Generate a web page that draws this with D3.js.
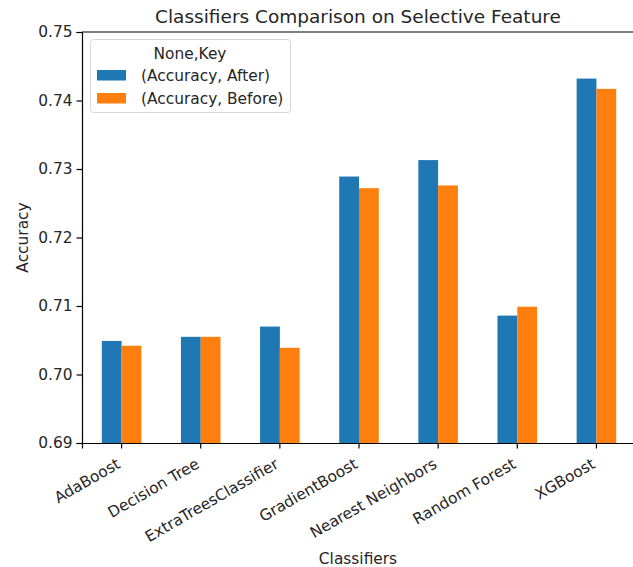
<!DOCTYPE html>
<html>
<head>
<meta charset="utf-8">
<script src="https://cdn.jsdelivr.net/npm/d3@7"></script>
<style>
  body { margin: 0; background: #fff; }
  text { font-family: "DejaVu Sans", sans-serif; fill: #262626; }
</style>
</head>
<body>
<svg width="633" height="567"></svg>
<script>
// data
var classifiers = ["AdaBoost", "Decision Tree", "ExtraTreesClassifier", "GradientBoost",
  "Nearest Neighbors", "Random Forest", "XGBoost"];
var after = [0.7049, 0.7055, 0.7070, 0.7289, 0.7313, 0.7086, 0.7432];
var before = [0.7042, 0.7055, 0.7039, 0.7272, 0.7276, 0.7099, 0.7417];
var seriesNames = ["(Accuracy, After)", "(Accuracy, Before)"];
var yTicks = [0.69, 0.70, 0.71, 0.72, 0.73, 0.74, 0.75];

var colors = ["#1f77b4", "#ff7f0e"];
var fs = "15.4px";

var svg = d3.select("svg"),
  pLeft = 82, pRight = 636, pTop = 32, pBottom = 443;

// x: band per classifier, bars take half the slot
var x = d3.scaleBand().domain(classifiers).range([pLeft, pRight]).paddingInner(0).paddingOuter(0);
var y = d3.scaleLinear().domain([0.69, 0.75]).range([pBottom, pTop]);
var barW = x.bandwidth() * 0.25;

var g = svg.append("g");

[after, before].forEach(function (vals, s) {
  g.selectAll(".bar" + s)
    .data(vals)
    .enter()
    .append("rect")
    .attr("x", function (d, i) { return x(classifiers[i]) + x.bandwidth() / 2 - barW + s * barW; })
    .attr("y", function (d) { return y(d); })
    .attr("width", barW)
    .attr("height", function (d) { return pBottom - y(d); })
    .attr("fill", colors[s]);
});

// axes
var yAxis = svg.append("g")
  .attr("transform", "translate(" + pLeft + ",0)")
  .call(d3.axisLeft(y).tickValues(yTicks).tickFormat(d3.format(".2f")).tickSize(5.5).tickPadding(4));
yAxis.selectAll("text").style("font-size", fs).attr("fill", "#262626");

var xAxis = svg.append("g")
  .attr("transform", "translate(0," + pBottom + ")")
  .call(d3.axisBottom(x).tickSize(5.5).tickFormat(""));

[yAxis, xAxis].forEach(function (a) {
  a.select(".domain").attr("stroke", "#000").attr("stroke-width", 1.2);
  a.selectAll(".tick line").attr("stroke", "#000").attr("stroke-width", 1.2);
});

// rotated tick labels
svg.append("g").selectAll("text")
  .data(classifiers)
  .enter()
  .append("text")
  .attr("transform", function (d) {
    return "translate(" + (x(d) + x.bandwidth() / 2 - 6) + "," + (pBottom + 14) + ") rotate(-30)";
  })
  .attr("text-anchor", "end")
  .attr("dy", "0.75em")
  .style("font-size", fs)
  .text(function (d) { return d; });

// top spine
svg.append("line")
  .attr("x1", pLeft).attr("x2", pRight)
  .attr("y1", pTop).attr("y2", pTop)
  .attr("stroke", "#000").attr("stroke-width", 1.2);

// title and axis labels
svg.append("text")
  .attr("x", (pLeft + pRight) / 2 - 1)
  .attr("y", 23)
  .attr("text-anchor", "middle")
  .style("font-size", "18.5px")
  .text("Classifiers Comparison on Selective Feature");

svg.append("text")
  .attr("x", (pLeft + pRight) / 2 - 1)
  .attr("y", 564)
  .attr("text-anchor", "middle")
  .style("font-size", fs)
  .text("Classifiers");

svg.append("text")
  .attr("transform", "translate(28," + (pTop + pBottom) / 2 + ") rotate(-90)")
  .attr("text-anchor", "middle")
  .style("font-size", fs)
  .text("Accuracy");

// legend
var lg = svg.append("g");
lg.append("rect")
  .attr("x", 90.5).attr("y", 39.5)
  .attr("width", 200).attr("height", 73)
  .attr("rx", 3).attr("ry", 3)
  .attr("fill", "#fff").attr("fill-opacity", 0.8)
  .attr("stroke", "#d6d6d6");
lg.append("text")
  .attr("x", 190).attr("y", 59)
  .attr("text-anchor", "middle")
  .style("font-size", fs)
  .text("None,Key");
seriesNames.forEach(function (n, i) {
  lg.append("rect")
    .attr("x", 97).attr("y", 70 + i * 23)
    .attr("width", 29).attr("height", 10.5)
    .attr("fill", colors[i]);
  lg.append("text")
    .attr("x", 141).attr("y", 81 + i * 23)
    .style("font-size", fs)
    .text(n);
});
</script>
</body>
</html>
